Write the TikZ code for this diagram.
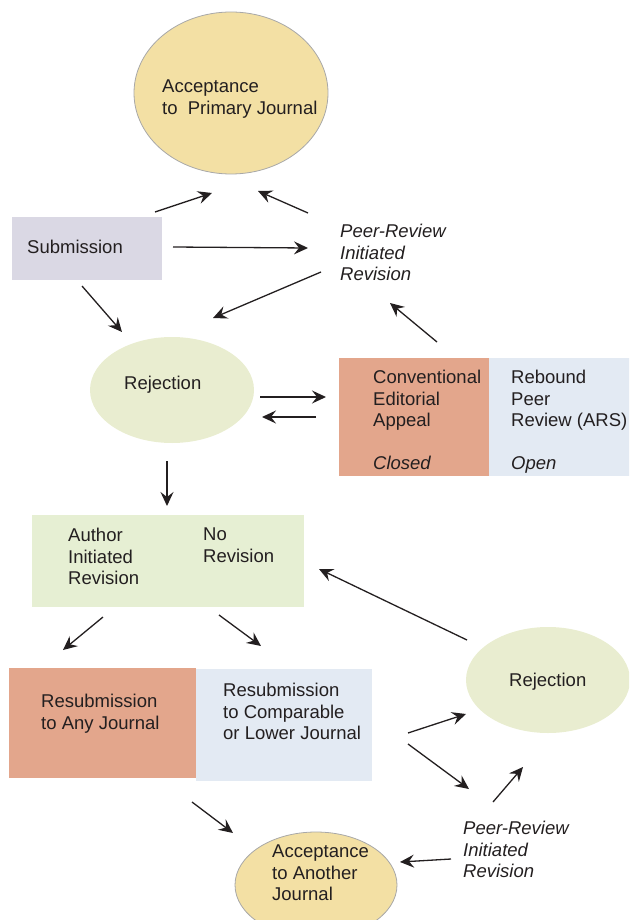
\documentclass[tikz,border=0pt]{standalone}
\usepackage{fontspec}
\setmainfont{Liberation Sans}
\usepackage{tikz}
\usetikzlibrary{shapes,arrows.meta,positioning}

\definecolor{accfill}{HTML}{F3E0A4}
\definecolor{edgegray}{HTML}{A8A8A8}
\definecolor{subfill}{HTML}{DAD8E4}
\definecolor{rejfill}{HTML}{E9EDD0}
\definecolor{salmon}{HTML}{E3A68C}
\definecolor{paleblue}{HTML}{E3EAF3}
\definecolor{authfill}{HTML}{E6EFD3}
\definecolor{txtgray}{HTML}{231F20}

\begin{document}
\begin{tikzpicture}[
    x=1pt, y=-1pt,
    font=\fontsize{18.5}{21.5}\selectfont,
    accept/.style={ellipse, draw=edgegray, line width=0.8pt, fill=accfill, inner sep=0pt},
    reject/.style={ellipse, fill=rejfill, inner sep=0pt},
    box/.style={rectangle, anchor=north west, inner sep=0pt},
    txt/.style={anchor=north west, align=left, inner sep=0pt, text=txtgray},
    arrow/.style={-{Stealth[length=14pt,width=13pt,inset=5pt]}, line width=1.3pt, txtgray}
]
\useasboundingbox (0,0) rectangle (629,920);
\clip (0,0) rectangle (629,920);

% Shapes
\node[accept, minimum width=194pt, minimum height=162pt] (primary) at (231,93) {};
\node[box, fill=subfill, minimum width=150pt, minimum height=63pt] (sub) at (12,217) {};
\node[reject, minimum width=164pt, minimum height=106pt] (rej1) at (172,390) {};
\node[box, fill=salmon, minimum width=150pt, minimum height=118pt] (appeal) at (339,358) {};
\node[box, fill=paleblue, minimum width=141pt, minimum height=118pt] (rebound) at (489,358) {};
\node[box, fill=authfill, minimum width=272pt, minimum height=92pt] (author) at (32,515) {};
\node[box, fill=salmon, minimum width=187pt, minimum height=110pt] (anyj) at (9,668) {};
\node[box, fill=paleblue, minimum width=176pt, minimum height=112pt] (compj) at (196,669) {};
\node[reject, minimum width=164pt, minimum height=106pt] (rej2) at (548,680) {};
\node[accept, minimum width=162pt, minimum height=106pt] (another) at (316,885) {};

% Texts
\node[txt] (primarytxt) at (162,80) {Acceptance\\to~~Primary Journal};
\node[txt] (subtxt) at (27,240) {Submission};
\node[txt, font=\fontsize{18.5}{21.5}\selectfont\itshape] (prtop) at (340,224) {Peer-Review\\Initiated\\Revision};
\node[txt] (rej1txt) at (124,376) {Rejection};
\node[txt] (appealtxt) at (373,370) {Conventional\\Editorial\\Appeal\\[21.5pt]\textit{Closed}};
\node[txt] (reboundtxt) at (511,370) {Rebound\\Peer\\Review (ARS)\\[21.5pt]\textit{Open}};
\node[txt] (authortxt) at (68,528) {Author\\Initiated\\Revision};
\node[txt] (norevtxt) at (203,528) {No\\Revision};
\node[txt] (anyjtxt) at (41,694) {Resubmission\\to Any Journal};
\node[txt] (compjtxt) at (223,683) {Resubmission\\to Comparable\\or Lower Journal};
\node[txt] (rej2txt) at (509,673) {Rejection};
\node[txt, font=\fontsize{18.5}{21.5}\selectfont\itshape] (prbot) at (463,821) {Peer-Review\\Initiated\\Revision};
\node[txt] (anothertxt) at (272,845) {Acceptance\\to Another\\Journal};

% Arrow ends
\coordinate (subA) at (155,212);   \coordinate (primA) at (212,193);
\coordinate (prtopA) at (308,213); \coordinate (primB) at (258,191);
\coordinate (subB) at (173,247);   \coordinate (prtopB) at (308,248);
\coordinate (prtopC) at (321,272); \coordinate (rej1A) at (213,318);
\coordinate (subC) at (82,286);    \coordinate (rej1B) at (122,332);
\coordinate (appealA) at (437,342); \coordinate (prtopD) at (390,303);
\coordinate (rej1C) at (260,397);  \coordinate (appealB) at (326,397);
\coordinate (appealC) at (316,417); \coordinate (rej1D) at (262,417);
\coordinate (rej1E) at (167,461);  \coordinate (authorA) at (167,506);
\coordinate (rej2A) at (467,640);  \coordinate (authorB) at (319,569);
\coordinate (authorC) at (103,617); \coordinate (anyjA) at (63,650);
\coordinate (authorD) at (219,615); \coordinate (compjA) at (261,646);
\coordinate (compjB) at (408,733); \coordinate (rej2B) at (466,714);
\coordinate (compjC) at (408,744); \coordinate (prbotA) at (469,789);
\coordinate (prbotB) at (493,802); \coordinate (rej2C) at (523,767);
\coordinate (anyjB) at (192,802);  \coordinate (anotherA) at (233,833);
\coordinate (prbotC) at (451,859); \coordinate (anotherB) at (400,862);

% Connections
\draw[arrow] (subA) -- (primA);
\draw[arrow] (prtopA) -- (primB);
\draw[arrow] (subB) -- (prtopB);
\draw[arrow] (prtopC) -- (rej1A);
\draw[arrow] (subC) -- (rej1B);
\draw[arrow] (appealA) -- (prtopD);
\draw[arrow] (rej1C) -- (appealB);
\draw[arrow] (appealC) -- (rej1D);
\draw[arrow] (rej1E) -- (authorA);
\draw[arrow] (rej2A) -- (authorB);
\draw[arrow] (authorC) -- (anyjA);
\draw[arrow] (authorD) -- (compjA);
\draw[arrow] (compjB) -- (rej2B);
\draw[arrow] (compjC) -- (prbotA);
\draw[arrow] (prbotB) -- (rej2C);
\draw[arrow] (anyjB) -- (anotherA);
\draw[arrow] (prbotC) -- (anotherB);

\end{tikzpicture}
\end{document}
